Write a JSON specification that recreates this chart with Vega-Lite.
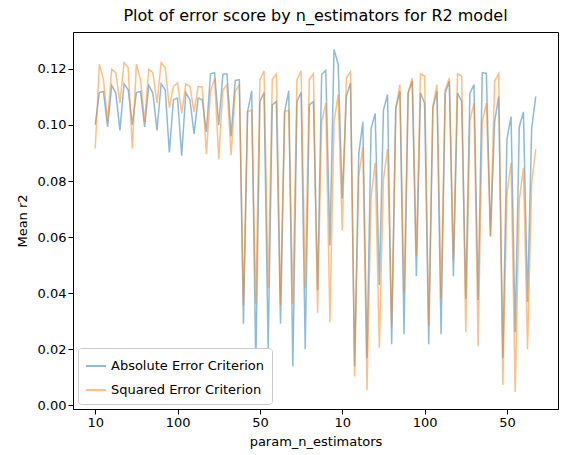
{
  "$schema": "https://vega.github.io/schema/vega-lite/v6.json",
  "autosize": {"type": "none"},
  "padding": {"left": 73, "top": 32, "right": 18, "bottom": 46},
  "width": 485,
  "height": 377,
  "title": {"text": "Plot of error score by n_estimators for R2 model", "font": "DejaVu Sans", "fontSize": 16, "fontWeight": "normal", "color": "black", "offset": 8},
  "config": {
    "view": {"stroke": "black", "strokeWidth": 1},
    "axis": {"labelFont": "DejaVu Sans", "titleFont": "DejaVu Sans", "labelFontSize": 13, "titleFontSize": 13, "titleFontWeight": "normal", "labelColor": "black", "titleColor": "black", "domainColor": "black", "tickColor": "black", "grid": false, "tickSize": 5}
  },
  "data": {"values": [
{"i":0,"a":0.1001,"s":0.0916},{"i":1,"a":0.1116,"s":0.1217},{"i":2,"a":0.1120,"s":0.1162},{"i":3,"a":0.0993,"s":0.1011},{"i":4,"a":0.1141,"s":0.1199},{"i":5,"a":0.1114,"s":0.1187},{"i":6,"a":0.0981,"s":0.1078},{"i":7,"a":0.1147,"s":0.1223},{"i":8,"a":0.1126,"s":0.1205},
{"i":9,"a":0.1001,"s":0.0916},{"i":10,"a":0.1116,"s":0.1217},{"i":11,"a":0.1120,"s":0.1162},{"i":12,"a":0.0993,"s":0.1011},{"i":13,"a":0.1141,"s":0.1199},{"i":14,"a":0.1114,"s":0.1187},{"i":15,"a":0.0981,"s":0.1078},{"i":16,"a":0.1147,"s":0.1223},{"i":17,"a":0.1126,"s":0.1205},
{"i":18,"a":0.0902,"s":0.1062},{"i":19,"a":0.1090,"s":0.1138},{"i":20,"a":0.1096,"s":0.1150},{"i":21,"a":0.0890,"s":0.1041},{"i":22,"a":0.1116,"s":0.1147},{"i":23,"a":0.1090,"s":0.1138},{"i":24,"a":0.0968,"s":0.1047},{"i":25,"a":0.1096,"s":0.1138},{"i":26,"a":0.1090,"s":0.1135},
{"i":27,"a":0.0975,"s":0.0896},{"i":28,"a":0.1183,"s":0.1120},{"i":29,"a":0.1187,"s":0.1168},{"i":30,"a":0.0999,"s":0.0878},{"i":31,"a":0.1181,"s":0.1126},{"i":32,"a":0.1183,"s":0.1144},{"i":33,"a":0.0960,"s":0.0892},{"i":34,"a":0.1159,"s":0.1120},{"i":35,"a":0.1162,"s":0.1144},
{"i":36,"a":0.0290,"s":0.0356},{"i":37,"a":0.1047,"s":0.1047},{"i":38,"a":0.1122,"s":0.1053},{"i":39,"a":0.0144,"s":0.0362},{"i":40,"a":0.1084,"s":0.1162},{"i":41,"a":0.1116,"s":0.1193},{"i":42,"a":0.0199,"s":0.0417},{"i":43,"a":0.1072,"s":0.1162},{"i":44,"a":0.1084,"s":0.1183},
{"i":45,"a":0.0290,"s":0.0356},{"i":46,"a":0.1047,"s":0.1047},{"i":47,"a":0.1122,"s":0.1053},{"i":48,"a":0.0138,"s":0.0362},{"i":49,"a":0.1084,"s":0.1162},{"i":50,"a":0.1116,"s":0.1193},{"i":51,"a":0.0199,"s":0.0417},{"i":52,"a":0.1072,"s":0.1162},{"i":53,"a":0.1084,"s":0.1183},
{"i":54,"a":0.0410,"s":0.0330},{"i":55,"a":0.1181,"s":0.1011},{"i":56,"a":0.1195,"s":0.1078},{"i":57,"a":0.0570,"s":0.0296},{"i":58,"a":0.1270,"s":0.1011},{"i":59,"a":0.1217,"s":0.1108},{"i":60,"a":0.0738,"s":0.0623},{"i":61,"a":0.1102,"s":0.1168},{"i":62,"a":0.1150,"s":0.1190},
{"i":63,"a":0.0138,"s":0.0102},{"i":64,"a":0.0896,"s":0.0817},{"i":65,"a":0.1011,"s":0.0920},{"i":66,"a":0.0168,"s":0.0053},{"i":67,"a":0.0987,"s":0.0744},{"i":68,"a":0.1041,"s":0.0865},{"i":69,"a":0.0429,"s":0.0205},{"i":70,"a":0.1053,"s":0.0805},{"i":71,"a":0.1108,"s":0.0914},
{"i":72,"a":0.0217,"s":0.0278},{"i":73,"a":0.1060,"s":0.1060},{"i":74,"a":0.1120,"s":0.1144},{"i":75,"a":0.0253,"s":0.0405},{"i":76,"a":0.1114,"s":0.1114},{"i":77,"a":0.1156,"s":0.1168},{"i":78,"a":0.0460,"s":0.0532},{"i":79,"a":0.1114,"s":0.1183},{"i":80,"a":0.1078,"s":0.1175},
{"i":81,"a":0.0217,"s":0.0284},{"i":82,"a":0.1060,"s":0.1066},{"i":83,"a":0.1120,"s":0.1144},{"i":84,"a":0.0253,"s":0.0380},{"i":85,"a":0.1114,"s":0.1126},{"i":86,"a":0.1156,"s":0.1168},{"i":87,"a":0.0460,"s":0.0515},{"i":88,"a":0.1114,"s":0.1183},{"i":89,"a":0.1084,"s":0.1175},
{"i":90,"a":0.0380,"s":0.0260},{"i":91,"a":0.1114,"s":0.1017},{"i":92,"a":0.1144,"s":0.1078},{"i":93,"a":0.0375,"s":0.0210},{"i":94,"a":0.1187,"s":0.1011},{"i":95,"a":0.1184,"s":0.1078},{"i":96,"a":0.0605,"s":0.0600},{"i":97,"a":0.1011,"s":0.1156},{"i":98,"a":0.1102,"s":0.1183},
{"i":99,"a":0.0168,"s":0.0072},{"i":100,"a":0.0950,"s":0.0756},{"i":101,"a":0.1030,"s":0.0865},{"i":102,"a":0.0260,"s":0.0047},{"i":103,"a":0.0993,"s":0.0732},{"i":104,"a":0.1047,"s":0.0847},{"i":105,"a":0.0368,"s":0.0199},{"i":106,"a":0.0987,"s":0.0793},{"i":107,"a":0.1102,"s":0.0914}
  ]},
  "transform": [
    {"fold": ["a", "s"], "as": ["k", "score"]},
    {"calculate": "datum.k == 'a' ? 'Absolute Error Criterion' : 'Squared Error Criterion'", "as": "series"}
  ],
  "mark": {"type": "line", "strokeWidth": 1.5, "opacity": 0.5},
  "encoding": {
    "x": {"field": "i", "type": "quantitative", "scale": {"domain": [-5.4, 112.4], "nice": false, "zero": false}, "title": "param_n_estimators",
      "axis": {"values": [0, 20, 40, 60, 80, 100], "labelExpr": "['10','100','50','10','100','50'][datum.value / 20]", "titlePadding": 6}},
    "y": {"field": "score", "type": "quantitative", "scale": {"domain": [-0.0014, 0.1332], "nice": false, "zero": false}, "title": "Mean r2",
      "axis": {"values": [0, 0.02, 0.04, 0.06, 0.08, 0.1, 0.12], "format": ".2f", "titlePadding": 8}},
    "color": {"field": "series", "type": "nominal", "scale": {"range": ["#1f77b4", "#ff7f0e"]},
      "legend": {"title": null, "orient": "bottom-left", "labelFont": "DejaVu Sans", "labelFontSize": 13, "labelColor": "black", "symbolType": "stroke", "symbolStrokeWidth": 2, "symbolSize": 400, "symbolOpacity": 0.5, "strokeColor": "#cccccc", "fillColor": "white", "padding": 7, "cornerRadius": 3, "rowPadding": 6, "offset": 5}}
  }
}
